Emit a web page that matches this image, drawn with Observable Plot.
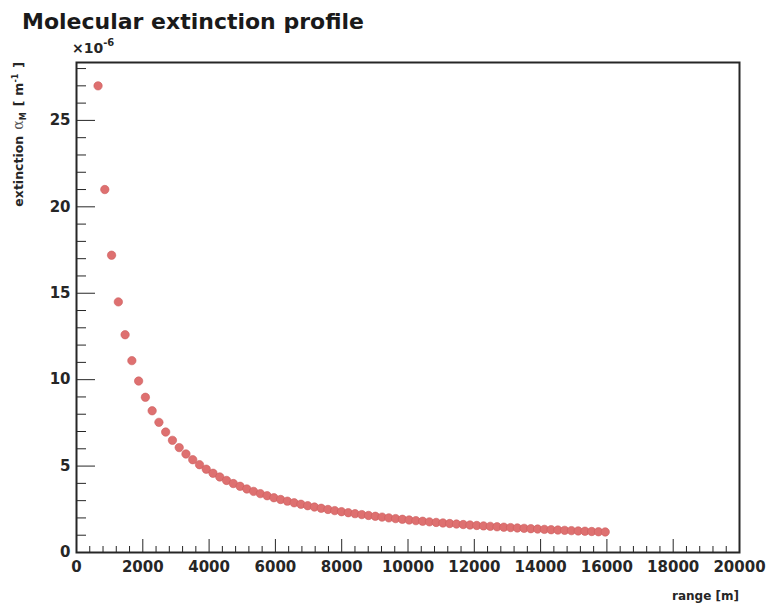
<!DOCTYPE html>
<html><head><meta charset="utf-8">
<script src="https://cdn.jsdelivr.net/npm/d3@7"></script>
<script src="https://cdn.jsdelivr.net/npm/@observablehq/plot@0.6"></script>
<style>
body{margin:0;background:#fff}
#chart{position:relative;width:768px;height:604px}
</style>
</head><body><div id="chart"></div>
<script>
// Range bins (m)
const ranges = [650, 854, 1058, 1262, 1466, 1670, 1874, 2078, 2282, 2486, 2690, 2894, 3098, 3302, 3506, 3710, 3914, 4118, 4322, 4526, 4730, 4934, 5138, 5342, 5546, 5750, 5954, 6158, 6362, 6566, 6770, 6974, 7178, 7382, 7586, 7790, 7994, 8198, 8402, 8606, 8810, 9014, 9218, 9422, 9626, 9830, 10034, 10238, 10442, 10646, 10850, 11054, 11258, 11462, 11666, 11870, 12074, 12278, 12482, 12686, 12890, 13094, 13298, 13502, 13706, 13910, 14114, 14318, 14522, 14726, 14930, 15134, 15338, 15542, 15746, 15950];
// Molecular extinction (×10^-6 m^-1)
const extinction = [27.0, 21.0, 17.2, 14.5, 12.6, 11.1, 9.92, 8.98, 8.2, 7.53, 6.97, 6.49, 6.07, 5.70, 5.37, 5.08, 4.82, 4.585, 4.37, 4.17, 3.99, 3.83, 3.675, 3.535, 3.405, 3.285, 3.17, 3.067, 2.97, 2.876, 2.79, 2.708, 2.63, 2.558, 2.49, 2.424, 2.362, 2.303, 2.247, 2.194, 2.143, 2.095, 2.048, 2.004, 1.961, 1.921, 1.882, 1.844, 1.808, 1.773, 1.74, 1.708, 1.677, 1.647, 1.618, 1.591, 1.564, 1.538, 1.513, 1.488, 1.465, 1.442, 1.42, 1.398, 1.378, 1.357, 1.338, 1.319, 1.30, 1.282, 1.265, 1.248, 1.231, 1.215, 1.199, 1.19];

const xMajorTicks = [0, 2000, 4000, 6000, 8000, 10000, 12000, 14000, 16000, 18000, 20000];
const xMinorTicks = [400, 800, 1200, 1600, 2400, 2800, 3200, 3600, 4400, 4800, 5200, 5600, 6400, 6800, 7200, 7600, 8400, 8800, 9200, 9600, 10400, 10800, 11200, 11600, 12400, 12800, 13200, 13600, 14400, 14800, 15200, 15600, 16400, 16800, 17200, 17600, 18400, 18800, 19200, 19600];
const yMajorTicks = [0, 5, 10, 15, 20, 25];
const yMinorTicks = [1, 2, 3, 4, 6, 7, 8, 9, 11, 12, 13, 14, 16, 17, 18, 19, 21, 22, 23, 24, 26, 27, 28];
const xDomain = [0, 20000];
const yDomain = [0, 28.35];

const titleText = "Molecular extinction profile";
const xLabel = "range [m]";

const data = ranges.map((r, i) => ({range: r, ext: extinction[i]}));
const font = "'DejaVu Sans', sans-serif";
const axisColor = "#262626";

const plot = Plot.plot({
  width: 768, height: 604,
  marginLeft: 76, marginRight: 29, marginTop: 62, marginBottom: 52,
  style: {fontFamily: font, fontWeight: "bold", fontSize: "15px", color: axisColor, background: "white"},
  x: {domain: xDomain},
  y: {domain: yDomain},
  marks: [
    Plot.axisX({ticks: xMajorTicks, tickSize: 0, tickPadding: 9, tickFormat: d => String(d), label: null}),
    Plot.axisX({ticks: xMajorTicks, tickSize: -13, tickFormat: () => "", label: null}),
    Plot.axisX({ticks: xMinorTicks, tickSize: -6, tickFormat: () => "", label: null}),
    Plot.axisY({ticks: yMajorTicks, tickSize: 0, tickPadding: 6, tickFormat: d => String(d), label: null}),
    Plot.axisY({ticks: yMajorTicks, tickSize: -19, tickFormat: () => "", label: null}),
    Plot.axisY({ticks: yMinorTicks, tickSize: -10, tickFormat: () => "", label: null}),
    Plot.dot(data, {x: "range", y: "ext", r: 4.2, fill: "#de7070", stroke: "#cd5e5e", strokeWidth: 0.6}),
    Plot.frame({stroke: axisColor, strokeWidth: 2})
  ]
});

document.getElementById("chart").appendChild(plot);
const svg = d3.select(plot);

svg.append("text")
  .attr("x", 22).attr("y", 29)
  .attr("text-anchor", "start")
  .attr("font-family", font).attr("font-weight", "bold").attr("font-size", 22)
  .attr("fill", "#1a1a1a")
  .text(titleText);

const mult = svg.append("text")
  .attr("x", 72).attr("y", 53)
  .attr("text-anchor", "start")
  .attr("font-family", font).attr("font-weight", "bold").attr("font-size", 14)
  .attr("fill", axisColor);
mult.append("tspan").text("×10");
mult.append("tspan").attr("font-size", 10).attr("dy", -7).text("-6");

svg.append("text")
  .attr("x", 739).attr("y", 600)
  .attr("text-anchor", "end")
  .attr("font-family", font).attr("font-weight", "bold").attr("font-size", 12)
  .attr("fill", axisColor)
  .text(xLabel);

const yl = svg.append("text")
  .attr("transform", "translate(23,62) rotate(-90)")
  .attr("text-anchor", "end")
  .attr("font-family", font).attr("font-weight", "bold").attr("font-size", 12.5)
  .attr("fill", axisColor);
yl.append("tspan").text("extinction");
yl.append("tspan").attr("dx", 6).attr("font-weight", "normal").attr("font-family", "'DejaVu Serif', serif").attr("font-size", 14).attr("fill", "#555").text("α");
yl.append("tspan").attr("font-size", 8).attr("dy", 3).text("M");
yl.append("tspan").attr("dx", 6).attr("dy", -3).text("[");
yl.append("tspan").attr("dx", 5).text("m");
yl.append("tspan").attr("font-size", 8).attr("dy", -5).text("-1");
yl.append("tspan").attr("dx", 6).attr("dy", 5).text("]");
</script>
</body></html>
